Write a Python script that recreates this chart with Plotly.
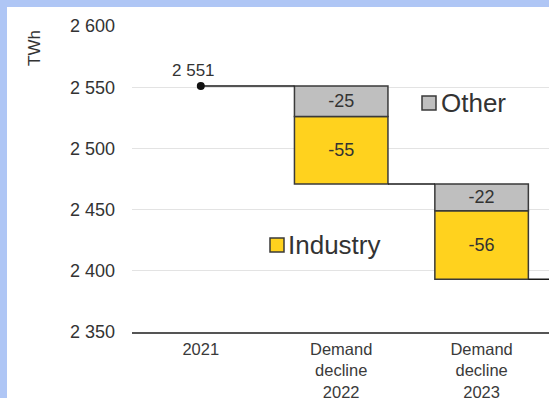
import plotly.graph_objects as go

# ---- data ----
categories = ["2021", "Demand<br>decline<br>2022", "Demand<br>decline<br>2023"]
start_value = 2551
start_label = "2 551"
other = [-25, -22]
industry = [-55, -56]
y_ticks = [2350, 2400, 2450, 2500, 2550, 2600]
y_tick_labels = ["2 350", "2 400", "2 450", "2 500", "2 550", "2 600"]

# ---- layout constants ----
W, H = 549, 398
ML, MR, MT, MB = 132, 0, 26, 66
PW, PH = W - ML - MR, H - MT - MB
BAR_W = 0.666
XR = [-0.49, 2.48]
YR = [2350, 2600]

GRAY = "#BFBFBF"
YELLOW = "#FFD21E"
EDGE = "#3a3a3a"
TXT = "#333333"
FONT = "Liberation Sans, Arial, sans-serif"
BLUE = "#AFC6F5"


def px(xpix):
    return (xpix - ML) / PW


def py(ypix):
    return (H - MB - ypix) / PH


# compute waterfall levels
levels = [start_value]
other_base, other_h, ind_base, ind_h = [], [], [], []
for o, i in zip(other, industry):
    prev = levels[-1]
    other_base.append(prev + o)
    other_h.append(-o)
    ind_base.append(prev + o + i)
    ind_h.append(-i)
    levels.append(prev + o + i)

bar_x = list(range(1, len(categories)))

fig = go.Figure()

# connector lines
cx, cy = [], []
for k, lvl in enumerate(levels):
    x_start = k if k == 0 else k + BAR_W / 2
    x_end = k + 1 - BAR_W / 2 if k + 1 < len(categories) else k + 1
    cx += [x_start, x_end, None]
    cy += [lvl, lvl, None]
fig.add_trace(go.Scatter(x=cx, y=cy, mode="lines",
                         line=dict(color="#1a1a1a", width=1.5),
                         hoverinfo="skip", cliponaxis=True))

fig.add_trace(go.Bar(x=bar_x, y=ind_h, base=ind_base, width=BAR_W,
                     marker=dict(color=YELLOW, line=dict(color=EDGE, width=1.5)),
                     text=[str(v) for v in industry], textposition="inside",
                     insidetextanchor="middle",
                     textfont=dict(size=18, color=TXT, family=FONT), name="Industry"))
fig.add_trace(go.Bar(x=bar_x, y=other_h, base=other_base, width=BAR_W,
                     marker=dict(color=GRAY, line=dict(color=EDGE, width=1.5)),
                     text=[str(v) for v in other], textposition="inside",
                     insidetextanchor="middle",
                     textfont=dict(size=18, color=TXT, family=FONT), name="Other"))

# start point
fig.add_trace(go.Scatter(x=[0], y=[start_value], mode="markers",
                         marker=dict(color="#111111", size=8), hoverinfo="skip"))

fig.add_annotation(x=0, y=start_value, text=start_label, showarrow=False,
                   xshift=-7, yshift=15, font=dict(size=17, color=TXT, family=FONT))

# TWh label
fig.add_annotation(x=px(35), y=py(48), xref="paper", yref="paper", text="TWh",
                   textangle=-90, showarrow=False, xanchor="center", yanchor="middle",
                   font=dict(size=17, color=TXT, family=FONT))

shapes = []
# white card over blue page background (blue frame at left and top)
shapes.append(dict(type="rect", xref="paper", yref="paper", layer="below",
                   x0=px(7), x1=px(W + 5), y0=py(H + 5), y1=py(7),
                   fillcolor="white", line=dict(width=0)))
# top blue strip drawn on top as well
shapes.append(dict(type="rect", xref="paper", yref="paper", layer="above",
                   x0=px(-5), x1=px(W + 5), y0=py(7), y1=py(-10),
                   fillcolor=BLUE, line=dict(width=0)))

# in-chart legend keys
for (x0, y0, col, label, tx, ty) in [
    (422, 96, GRAY, "Other", 439, 103),
    (270, 238, YELLOW, "Industry", 286, 245),
]:
    shapes.append(dict(type="rect", xref="paper", yref="paper",
                       x0=px(x0), x1=px(x0 + 14), y0=py(y0 + 14), y1=py(y0),
                       fillcolor=col, line=dict(color=EDGE, width=1.5)))
    fig.add_annotation(x=px(tx), y=py(ty), xref="paper", yref="paper", text=label,
                       xanchor="left", yanchor="middle", showarrow=False,
                       font=dict(size=26, color=TXT, family=FONT))

fig.update_layout(
    width=W, height=H,
    margin=dict(l=ML, r=MR, t=MT, b=MB, autoexpand=False),
    paper_bgcolor=BLUE, plot_bgcolor="rgba(0,0,0,0)",
    showlegend=False, barmode="overlay",
    shapes=shapes,
    font=dict(family=FONT, color=TXT),
    xaxis=dict(range=XR, tickvals=list(range(len(categories))), ticktext=categories,
               showgrid=False, zeroline=False, showline=True, linecolor="#555555",
               linewidth=2, ticks="outside", ticklen=1, tickcolor="rgba(0,0,0,0)",
               automargin=False,
               tickfont=dict(size=16.5, color="#3a3a3a", family=FONT)),
    yaxis=dict(range=YR, tickvals=y_ticks, ticktext=y_tick_labels,
               showgrid=True, gridcolor="#E3E3E3", gridwidth=1, zeroline=False,
               showline=False, ticks="", ticklabelstandoff=16, automargin=False,
               tickfont=dict(size=18, color="#333333", family=FONT)),
)

post = ("document.body.style.margin='0px';"
        "document.body.style.overflow='hidden';"
        "document.body.style.background='" + BLUE + "';"
        "document.documentElement.style.background='" + BLUE + "';")
fig.write_html("out.html", config={"displayModeBar": False}, post_script=post)
